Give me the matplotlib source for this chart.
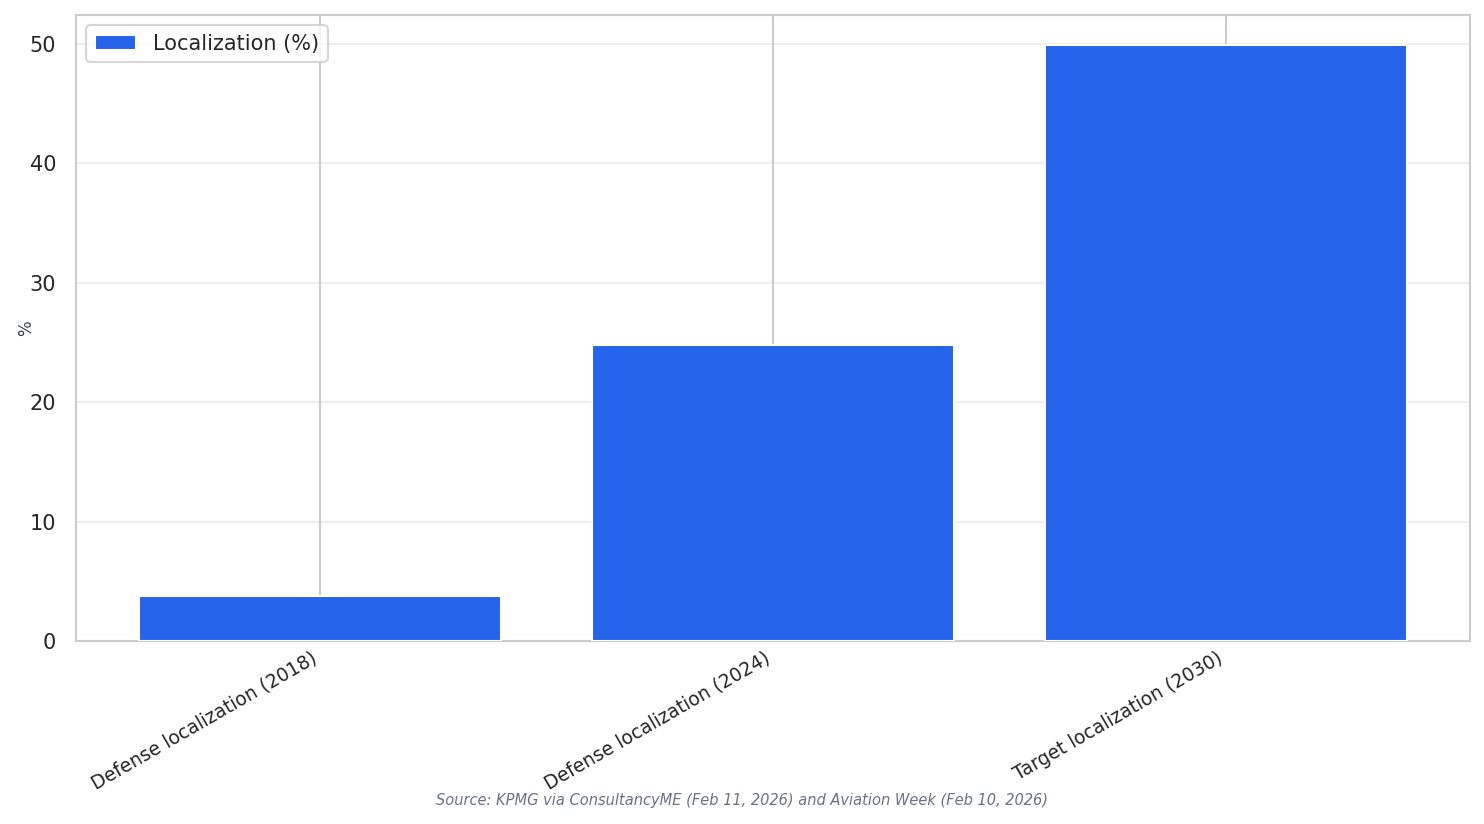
import matplotlib
matplotlib.use("Agg")
import matplotlib.pyplot as plt
import seaborn as sns

categories = ["Defense localization (2018)", "Defense localization (2024)", "Target localization (2030)"]
values = [3.8, 24.8, 49.9]
series_label = "Localization (%)"
source_text = "Source: KPMG via ConsultancyME (Feb 11, 2026) and Aviation Week (Feb 10, 2026)"

sns.set_theme(style="whitegrid", context="notebook")
plt.rcParams['font.family'] = ['DejaVu Sans']

fig = plt.figure(figsize=(1484/150, 824/150), dpi=150)
ax = fig.add_axes([76/1484, 1-641/824, (1470-76)/1484, (641-15)/824])

ax.bar(categories, values, width=0.8, color="#2563eb", label=series_label, zorder=3)
ax.grid(axis="y", alpha=0.3)
for s in ax.spines.values():
    s.set_linewidth(1.0)
ax.set_ylabel("%", fontsize=8, color="#374151", labelpad=-2.5)
ax.tick_params(axis="y", labelsize=10)
ax.tick_params(axis="x", length=0, pad=3.5)
plt.setp(ax.get_xticklabels(), rotation=30, ha="right", fontsize=9)
ax.legend(loc="upper left", fontsize=10)
fig.text(0.5, 1-801/824, source_text, ha="center", va="center", fontsize=7,
         style="italic", color="#6b7280")

fig.savefig("out.png", dpi=150)
